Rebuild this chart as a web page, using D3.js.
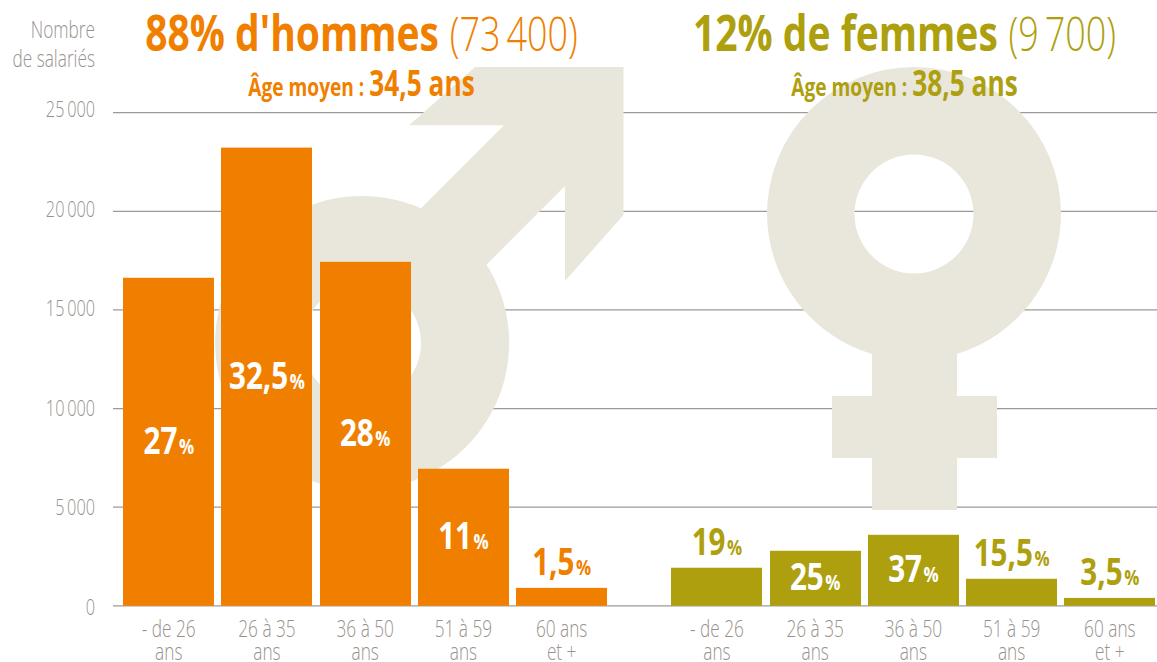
<!DOCTYPE html>
<html>
<head>
<meta charset="utf-8">
<script src="https://cdn.jsdelivr.net/npm/d3@7"></script>
<style>
  html, body { margin: 0; padding: 0; background: #fff; }
  svg { display: block; font-family: "Open Sans", sans-serif; }
</style>
</head>
<body>
<svg id="chart" width="1157" height="662"></svg>
<script>
  // tranches d'age, valeurs
  var AGE_LINE1 = ['- de 26', '26 à 35', '36 à 50', '51 à 59', '60 ans'];
  var AGE_LINE2 = ['ans', 'ans', 'ans', 'ans', 'et +'];
  var MEN_VALUES = [16630, 23230, 17440, 6950, 910];
  var WOMEN_VALUES = [1930, 2790, 3600, 1370, 400];
  var MEN_PCT = ['27', '32,5', '28', '11', '1,5'];
  var WOMEN_PCT = ['19', '25', '37', '15,5', '3,5'];
  var Y_TICKS = [0, 5000, 10000, 15000, 20000, 25000];

  var ORANGE = '#f07f00';
  var OLIVE = '#ae9f0f';
  var ICON = '#e9e7db';
  var GREY = '#98928d';
  var SX = 0.75; // Open Sans Condensed absente : on resserre a la main

  var svg = d3.select('#chart');
  var y = d3.scaleLinear().domain([0, 25000]).range([605.8, 112.7]);
  // les libelles de l'axe ne suivent pas tout a fait la grille dans l'original
  var yLabel = d3.scaleLinear().domain([0, 25000]).range([615, 117]);
  var fr = d3.formatLocale({ decimal: ',', thousands: '\u2009', grouping: [3], currency: ['', ''] });

  // texte resserre horizontalement, ancre au point x,y
  function squeezed(parent, x, yPos, anchor, sx) {
    return parent.append('text')
      .attr('text-anchor', anchor)
      .attr('transform', 'translate(' + x + ',' + yPos + ') scale(' + (sx || SX) + ',1)');
  }

  // grille
  var axis = d3.axisLeft(y).tickValues(Y_TICKS).tickSize(0).tickPadding(0).tickFormat(fr.format(','));
  var gAxis = svg.append('g').attr('transform', 'translate(95,0)').call(axis);
  gAxis.select('.domain').remove();
  gAxis.selectAll('text')
    .attr('x', 0).attr('dy', null)
    .attr('y', function (d) { return yLabel(d) - y(d) - 0.5; })
    .attr('fill', GREY).attr('font-size', 22).attr('font-weight', 300)
    .attr('font-family', '"Open Sans", sans-serif')
    .attr('transform', 'scale(0.74,1)');

  svg.append('g').selectAll('line')
    .data(Y_TICKS)
    .join('line')
    .attr('x1', 113).attr('x2', 1157)
    .attr('y1', function (d) { return y(d); })
    .attr('y2', function (d) { return y(d); })
    .attr('stroke', '#9f9a96')
    .attr('stroke-width', 1.3);

  // symboles en fond
  var icons = svg.append('g').attr('fill', ICON);
  icons.append('path')
    .attr('fill-rule', 'evenodd')
    .attr('d', 'M475,67 L623.5,67 L623.5,215 L565,281 L565,186 L486.5,264.5 A147,147 0 1 1 421,208.2 L504,125.3 L409,125.3 Z'
      + ' M421,343 A59,59 0 1 0 303,343 A59,59 0 1 0 421,343 Z');
  icons.append('path')
    .attr('fill-rule', 'evenodd')
    .attr('d', 'M767,214 A147,147 0 1 1 1061,214 A147,147 0 0 1 957,354 L957,396 L997,396 L997,458 L957,458 L957,510'
      + ' L872,510 L872,458 L832,458 L832,396 L872,396 L872,354 A147,147 0 0 1 767,214 Z'
      + ' M973.5,214 A59.5,59.5 0 1 0 854.5,214 A59.5,59.5 0 1 0 973.5,214 Z');

  function drawGroup(values, pcts, color, x0, x1) {
    var x = d3.scaleBand().domain(AGE_LINE1).range([x0, x1]).paddingInner(0.0725);
    var g = svg.append('g');

    g.selectAll('rect')
      .data(values)
      .join('rect')
      .attr('x', function (d, i) { return Math.round(x(AGE_LINE1[i])); })
      .attr('width', Math.round(x.bandwidth()))
      .attr('y', function (d) { return y(d); })
      .attr('height', function (d) { return y(0) - y(d); })
      .attr('fill', color);

    values.forEach(function (v, i) {
      var cx = x(AGE_LINE1[i]) + x.bandwidth() / 2;
      var h = y(0) - y(v);
      var inside = h > 40;
      var yLab = inside ? y(v) + h / 2 + 12 : y(v) - 13;
      var t = squeezed(g, cx, yLab, 'middle', 0.8)
        .attr('fill', inside ? '#fff' : color)
        .attr('font-weight', 700);
      t.append('tspan').attr('font-size', 37).text(pcts[i]);
      t.append('tspan').attr('font-size', 21).attr('dx', 2).text('%');

      squeezed(g, cx, 637, 'middle').attr('fill', GREY).attr('font-size', 23).attr('font-weight', 300).text(AGE_LINE1[i]);
      squeezed(g, cx, 660, 'middle').attr('fill', GREY).attr('font-size', 23).attr('font-weight', 300).text(AGE_LINE2[i]);
    });
  }

  drawGroup(MEN_VALUES, MEN_PCT, ORANGE, 123.2, 607.2);
  drawGroup(WOMEN_VALUES, WOMEN_PCT, OLIVE, 671.4, 1155.4);

  // titres
  function title(cx, color, bold, light, age) {
    var t = squeezed(svg, cx, 51, 'middle', 0.765).attr('fill', color);
    t.append('tspan').attr('font-size', 51).attr('font-weight', 700).text(bold);
    t.append('tspan').attr('font-size', 47).attr('font-weight', 300).attr('dx', 14).text(light);
    var s = squeezed(svg, cx, 96, 'middle').attr('fill', color).attr('font-weight', 700);
    s.append('tspan').attr('font-size', 25.5).text('Âge moyen : ');
    s.append('tspan').attr('font-size', 35).text(age);
  }
  title(361.5, ORANGE, "88% d'hommes", '(73\u2009400)', '34,5 ans');
  title(904.5, OLIVE, '12% de femmes', '(9\u2009700)', '38,5 ans');

  squeezed(svg, 95, 38, 'end').attr('fill', GREY).attr('font-size', 23).attr('font-weight', 300).text('Nombre');
  squeezed(svg, 95, 67, 'end').attr('fill', GREY).attr('font-size', 23).attr('font-weight', 300).text('de salariés');
</script>
</body>
</html>
